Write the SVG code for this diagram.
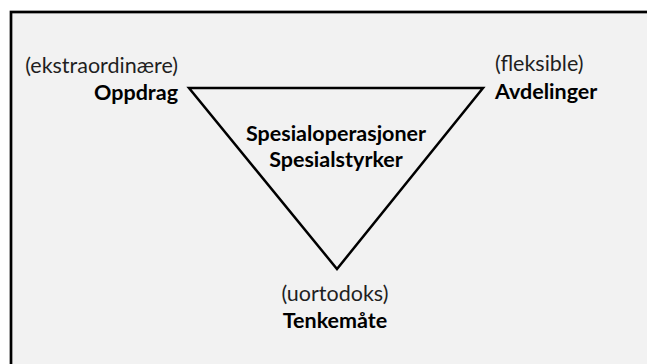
<svg xmlns="http://www.w3.org/2000/svg" width="647" height="364" viewBox="0 0 647 364">
<style>
.t{font-family:Lato,"Open Sans","Liberation Sans",sans-serif;font-size:21.5px;fill:#1f1f1f}
.b{font-weight:bold;fill:#000}
</style>
<rect x="0" y="0" width="647" height="364" fill="#ffffff"/>
<rect x="11" y="12" width="646" height="362" fill="#f2f2f2" stroke="#000" stroke-width="2.7"/>
<g id="connectors">
<polygon points="189,88 483,88 337,269" fill="none" stroke="#000" stroke-width="2.5" stroke-linejoin="miter"/>
</g>
<g id="center">
<text class="t b" x="336" y="141" text-anchor="middle">Spesialoperasjoner</text>
<text class="t b" x="336" y="167" text-anchor="middle">Spesialstyrker</text>
</g>
<g id="oppdrag">
<text class="t" x="178" y="73" text-anchor="end">(ekstraordinære)</text>
<text class="t b" x="178" y="100" text-anchor="end">Oppdrag</text>
</g>
<g id="avdelinger">
<text class="t" x="495" y="71">(fleksible)</text>
<text class="t b" x="495" y="99">Avdelinger</text>
</g>
<g id="tenkemate">
<text class="t" x="335" y="301" text-anchor="middle">(uortodoks)</text>
<text class="t b" x="335" y="328" text-anchor="middle">Tenkemåte</text>
</g>
</svg>
